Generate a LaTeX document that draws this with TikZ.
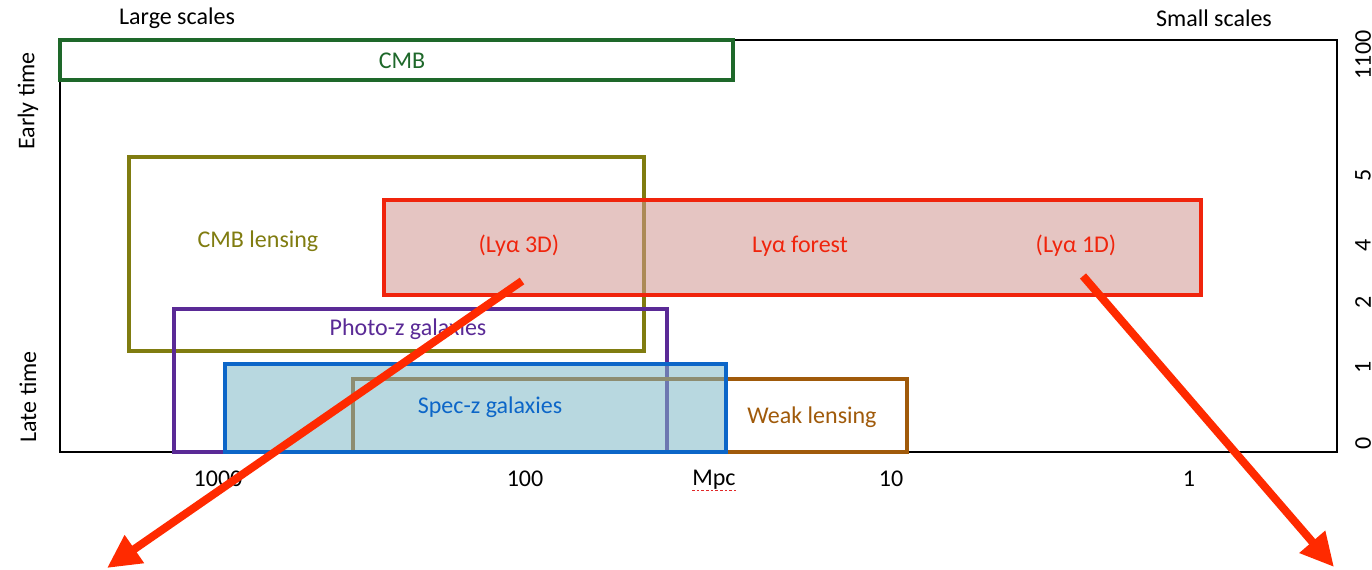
\documentclass[tikz,border=0pt]{standalone}
\usepackage{fontspec}
\setmainfont{Carlito}
\usetikzlibrary{arrows.meta}
\definecolor{cmbgreen}{RGB}{30,104,42}
\definecolor{lensolive}{RGB}{128,124,16}
\definecolor{lyared}{RGB}{240,36,12}
\definecolor{lyafill}{RGB}{209,151,144}
\definecolor{photopurple}{RGB}{90,42,150}
\definecolor{specblue}{RGB}{12,102,200}
\definecolor{specfill}{RGB}{126,184,199}
\definecolor{wlbrown}{RGB}{160,90,10}
\definecolor{arrowred}{RGB}{255,42,0}
\definecolor{squiggle}{RGB}{225,40,40}
\tikzset{
  survey/.style={line width=2.6pt},
  lbl/.style={inner sep=0pt},
  axislbl/.style={inner sep=0pt, text=black},
  bigarrow/.style={line width=6pt, arrowred, -{Triangle[length=25pt,width=24pt]}},
}
\begin{document}
\begin{tikzpicture}[x=0.75pt,y=-0.75pt,font=\fontsize{18}{21}\selectfont]
\useasboundingbox (0,0) rectangle (1372,570);
\fill[white] (0,0) rectangle (1372,570);
% frame
\draw[line width=1.1pt] (60,40) rectangle (1337,452);
% boxes
\draw[survey,cmbgreen] (60,40) rectangle (733,80);
\draw[survey,lensolive] (129,157) rectangle (644,351);
\draw[survey,photopurple] (174,309) rectangle (667,452);
\draw[survey,wlbrown] (353,379) rectangle (907,452);
\fill[specfill,opacity=0.55] (225,364) rectangle (726,452);
\draw[survey,specblue] (225,364) rectangle (726,452);
\fill[lyafill,opacity=0.55] (384,200) rectangle (1201,295);
\draw[survey,lyared] (384,200) rectangle (1201,295);
% labels
\node[lbl,text=cmbgreen] (cmb) at (402,61) {CMB};
\node[lbl,text=lensolive] (cmbl) at (258,241) {CMB lensing};
\node[lbl,text=lyared] (lya3d) at (519,246) {(Lyα 3D)};
\node[lbl,text=lyared] (lyaf) at (800,246) {Lyα forest};
\node[lbl,text=lyared] (lya1d) at (1076,246) {(Lyα 1D)};
\node[lbl,text=photopurple] (photo) at (408,329) {Photo-z galaxies};
\node[lbl,text=specblue] (spec) at (490,407) {Spec-z galaxies};
\node[lbl,text=wlbrown] (wl) at (812,417) {Weak lensing};
% axis labels
\node[axislbl] (large) at (177,18) {Large scales};
\node[axislbl] (small) at (1214,18) {Small scales};
\node[axislbl,rotate=90] (early) at (28,101) {Early time};
\node[axislbl,rotate=90] (late) at (28,397) {Late time};
\node[axislbl] (t1000) at (218,479) {1000};
\node[axislbl] (t100) at (525,479) {100};
\node[axislbl] (mpc) at (714,480) {Mpc};
\node[axislbl] (t10) at (891,479) {10};
\node[axislbl] (t1) at (1189,479) {1};
\draw[squiggle,line width=1pt,dash pattern=on 2pt off 1.5pt] ([yshift=-3.5pt]mpc.base west) -- ([yshift=-3.5pt]mpc.base east);
% right-hand redshift labels (partly cut by the right edge, as in the reference)
\node[axislbl,rotate=90,anchor=north] (z1100) at (1355,55) {1100};
\node[axislbl,rotate=90,anchor=north] (z5) at (1355,175) {5};
\node[axislbl,rotate=90,anchor=north] (z4) at (1355,245) {4};
\node[axislbl,rotate=90,anchor=north] (z2) at (1355,302) {2};
\node[axislbl,rotate=90,anchor=north] (z1) at (1355,367) {1};
\node[axislbl,rotate=90,anchor=north] (z0) at (1355,443) {0};
% arrows
\coordinate (a1s) at (522,281);
\coordinate (a1e) at (107,568);
\coordinate (a2s) at (1083,276);
\coordinate (a2e) at (1334,567);
\draw[bigarrow] (a1s) -- (a1e);
\draw[bigarrow] (a2s) -- (a2e);
\end{tikzpicture}
\end{document}
